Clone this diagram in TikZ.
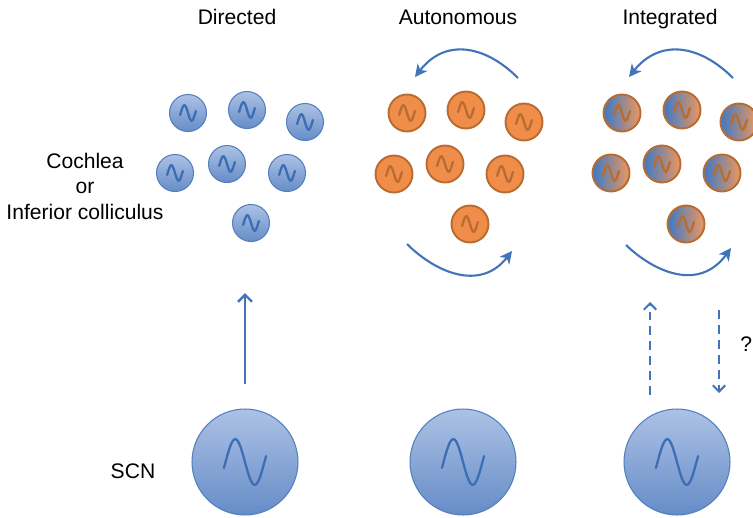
\documentclass[tikz,border=0pt]{standalone}
\usepackage{fontspec}
\setmainfont{Liberation Sans}
\usetikzlibrary{arrows.meta}

\definecolor{cellhi}{RGB}{172,194,229}
\definecolor{celllo}{RGB}{102,140,199}
\definecolor{cellrim}{RGB}{84,127,190}
\definecolor{wavebl}{RGB}{60,110,180}
\definecolor{orfill}{RGB}{240,141,72}
\definecolor{orrim}{RGB}{184,108,50}
\definecolor{intbl}{RGB}{60,121,198}
\definecolor{intor}{RGB}{237,151,94}
\definecolor{arrowbl}{RGB}{66,116,186}

\begin{document}
\begin{tikzpicture}[x=0.02cm, y=-0.02cm,
    smallwave/.style={path picture={\draw[#1, line width=1.3pt, line cap=round, shift={(path picture bounding box.center)}, yshift=-0.8pt]
        plot[domain=-15:375, samples=40, smooth] ({(\x-180)/390*9pt}, {4.4pt*sin(\x)});}},
    cellD/.style={circle, minimum size=0.74cm, inner sep=0pt, draw=cellrim, line width=0.6pt, top color=cellhi, bottom color=celllo, smallwave=wavebl},
    cellA/.style={circle, minimum size=0.74cm, inner sep=0pt, draw=orrim, line width=1.1pt, fill=orfill, smallwave=orrim},
    cellI/.style={circle, minimum size=0.74cm, inner sep=0pt, draw=orrim, line width=1.1pt, left color=intbl, right color=intor, smallwave=orrim},
    scn/.style={circle, minimum size=2.12cm, inner sep=0pt, draw=cellrim, line width=0.6pt, top color=cellhi, bottom color=celllo,
        path picture={\draw[wavebl, line width=1.3pt, line cap=round, shift={(path picture bounding box.center)}, yshift=-2.3pt]
        plot[domain=-15:375, samples=50, smooth] ({(\x-180)/390*24pt}, {13pt*sin(\x)});}},
    flow/.style={arrowbl, line width=1.4pt},
    head/.style={font=\fontsize{12}{14.5}\selectfont}
]
    \useasboundingbox (0,0) rectangle (753,517);

    % column titles
    \node[head, anchor=base] (hdD) at (237,25) {Directed};
    \node[head, anchor=base] (hdA) at (458,25) {Autonomous};
    \node[head, anchor=base] (hdI) at (670,25) {Integrated};
    \node[head, align=center] (organ) at (85,186) {Cochlea\\or\\Inferior colliculus};
    \node[head] (scnlbl) at (133,471) {SCN};

    % directed
    \node[cellD] (d1) at (188,113) {};
    \node[cellD] (d2) at (247,110) {};
    \node[cellD] (d3) at (305,122) {};
    \node[cellD] (d4) at (175,173) {};
    \node[cellD] (d5) at (227,164) {};
    \node[cellD] (d6) at (287,173) {};
    \node[cellD] (d7) at (251,223) {};

    % autonomous
    \node[cellA] (a1) at (407,113) {};
    \node[cellA] (a2) at (466,110) {};
    \node[cellA] (a3) at (524,122) {};
    \node[cellA] (a4) at (394,174) {};
    \node[cellA] (a5) at (445,164) {};
    \node[cellA] (a6) at (505,174) {};
    \node[cellA] (a7) at (470,224) {};

    % integrated
    \node[cellI] (i1) at (622,113) {};
    \node[cellI] (i2) at (682,110) {};
    \node[cellI] (i3) at (739,122) {};
    \node[cellI] (i4) at (611,173) {};
    \node[cellI] (i5) at (662,164) {};
    \node[cellI] (i6) at (722,173) {};
    \node[cellI] (i7) at (686,224) {};

    % SCN
    \node[scn] (scnD) at (245,462) {};
    \node[scn] (scnA) at (463,462) {};
    \node[scn] (scnI) at (677,462) {};

    \draw[flow, -{Straight Barb[length=4pt, width=8pt]}, shorten <=0.48cm, shorten >=1.02cm]
        (scnD.north) -- (scnD.north |- d7.south);

    % coupling loops
    \coordinate (aTopS) at (518,78);
    \coordinate (aTopE) at (415,77);
    \coordinate (aBotS) at (407,244);
    \coordinate (aBotE) at (512,251);
    \coordinate (iTopS) at (733,78);
    \coordinate (iTopE) at (629,77);
    \coordinate (iBotS) at (626,245);
    \coordinate (iBotE) at (731,248);
    \draw[flow, line width=1.2pt, -{Stealth[length=7pt, width=7pt, inset=2pt]}]
        (aTopS) .. controls (485,45) and (445,38) .. (aTopE);
    \draw[flow, line width=1.2pt, -{Stealth[length=7pt, width=7pt, inset=2pt]}]
        (aBotS) .. controls (435,272) and (480,292) .. (aBotE);
    \draw[flow, line width=1.2pt, -{Stealth[length=7pt, width=7pt, inset=2pt]}]
        (iTopS) .. controls (700,45) and (660,38) .. (iTopE);
    \draw[flow, line width=1.2pt, -{Stealth[length=7pt, width=7pt, inset=2pt]}]
        (iBotS) .. controls (654,272) and (699,292) .. (iBotE);

    % feedback ?
    \coordinate (upS) at (650,395);
    \coordinate (upE) at (650,302);
    \coordinate (dnS) at (719,310);
    \coordinate (dnE) at (719,393);
    \draw[flow, line width=1.2pt, dash pattern=on 5pt off 3.5pt, -{Straight Barb[length=3.5pt, width=7pt]}] (upS) -- (upE);
    \draw[flow, line width=1.2pt, dash pattern=on 5pt off 3.5pt, -{Straight Barb[length=3.5pt, width=7pt]}] (dnS) -- (dnE);
    \node[head, anchor=west, inner sep=0pt] (qmark) at (740,344) {?};
\end{tikzpicture}
\end{document}
